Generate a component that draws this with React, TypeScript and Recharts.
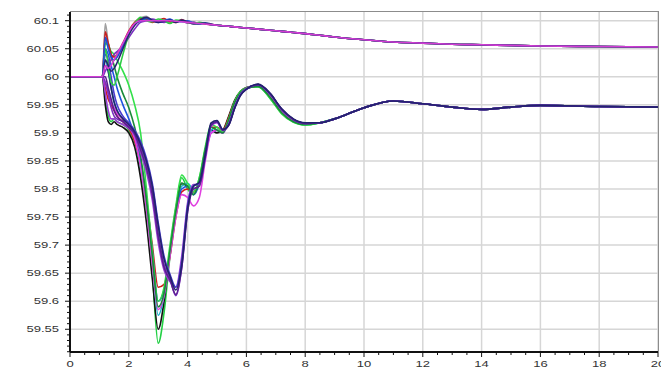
import { CartesianGrid, Line, LineChart, XAxis, YAxis } from "recharts";

// sample times (s)
const time = [
  0, 1, 1.1, 1.2, 1.3, 1.4, 1.5, 1.6, 1.8, 2, 2.2, 2.4, 2.6, 2.8, 3, 3.2, 3.4, 3.6, 3.8, 4, 4.2, 4.4, 4.6,
  4.8, 5, 5.2, 5.4, 5.6, 5.8, 6, 6.4, 6.8, 7.2, 7.6, 8, 8.5, 9, 10, 11, 12, 13, 14, 15, 16, 18, 20,
];

// pre-disturbance (t = 0, 1)
const preFault = [60, 60];

// lower bundle, t = 1.1 .. 8.0
const f1a = [60.0, 59.96, 59.93, 59.92, 59.925, 59.92, 59.915, 59.905, 59.88, 59.83, 59.76, 59.65, 59.525, 59.58, 59.68, 59.76, 59.82, 59.8, 59.79, 59.82, 59.87, 59.91, 59.905, 59.9, 59.925, 59.955, 59.972, 59.98, 59.982, 59.962, 59.935, 59.92, 59.914];
const f1b = [60.0, 59.95, 59.92, 59.915, 59.92, 59.915, 59.91, 59.9, 59.875, 59.82, 59.74, 59.64, 59.55, 59.6, 59.69, 59.765, 59.81, 59.805, 59.795, 59.815, 59.865, 59.905, 59.9, 59.905, 59.93, 59.958, 59.974, 59.981, 59.984, 59.965, 59.938, 59.922, 59.916];
const f1c = [60.0, 60.03, 60.01, 59.98, 59.955, 59.94, 59.925, 59.91, 59.885, 59.84, 59.77, 59.67, 59.575, 59.61, 59.69, 59.76, 59.805, 59.81, 59.8, 59.81, 59.86, 59.905, 59.91, 59.905, 59.925, 59.955, 59.972, 59.98, 59.985, 59.966, 59.937, 59.92, 59.915];
const f1d = [60.0, 59.98, 59.96, 59.95, 59.94, 59.93, 59.92, 59.908, 59.885, 59.845, 59.78, 59.7, 59.625, 59.63, 59.68, 59.75, 59.795, 59.8, 59.795, 59.815, 59.865, 59.91, 59.91, 59.905, 59.928, 59.956, 59.973, 59.98, 59.984, 59.965, 59.936, 59.921, 59.916];
const f1e = [60.0, 60.05, 60.04, 60.02, 60.0, 59.98, 59.95, 59.925, 59.895, 59.85, 59.785, 59.69, 59.6, 59.62, 59.685, 59.755, 59.8, 59.805, 59.79, 59.81, 59.86, 59.9, 59.905, 59.9, 59.922, 59.952, 59.97, 59.978, 59.984, 59.966, 59.938, 59.922, 59.916];
const f1f = [60.0, 59.99, 59.97, 59.955, 59.945, 59.935, 59.925, 59.912, 59.89, 59.84, 59.765, 59.665, 59.585, 59.61, 59.68, 59.75, 59.79, 59.785, 59.77, 59.785, 59.85, 59.9, 59.905, 59.9, 59.922, 59.952, 59.97, 59.979, 59.984, 59.966, 59.938, 59.922, 59.917];
const f1g = [60.0, 60.06, 60.055, 60.045, 60.04, 60.03, 60.01, 59.985, 59.95, 59.9, 59.8, 59.69, 59.6, 59.625, 59.7, 59.77, 59.825, 59.81, 59.795, 59.82, 59.875, 59.915, 59.91, 59.902, 59.925, 59.956, 59.974, 59.98, 59.983, 59.962, 59.934, 59.919, 59.914];
const f1h = [60.0, 60.07, 60.06, 60.04, 60.02, 60.0, 59.97, 59.945, 59.91, 59.86, 59.78, 59.68, 59.59, 59.615, 59.69, 59.76, 59.81, 59.805, 59.79, 59.815, 59.87, 59.91, 59.905, 59.9, 59.924, 59.954, 59.972, 59.979, 59.983, 59.964, 59.936, 59.92, 59.915];
const f2a = [60.0, 59.99, 59.97, 59.945, 59.93, 59.925, 59.92, 59.912, 59.9, 59.875, 59.845, 59.795, 59.72, 59.665, 59.64, 59.61, 59.66, 59.76, 59.805, 59.81, 59.86, 59.915, 59.92, 59.905, 59.915, 59.945, 59.968, 59.978, 59.986, 59.97, 59.942, 59.924, 59.917];
const f2b = [60.0, 60.02, 60.01, 59.98, 59.955, 59.94, 59.925, 59.915, 59.902, 59.88, 59.85, 59.805, 59.735, 59.675, 59.645, 59.62, 59.665, 59.765, 59.805, 59.812, 59.862, 59.918, 59.922, 59.906, 59.914, 59.944, 59.967, 59.978, 59.987, 59.971, 59.943, 59.925, 59.918];
const f2c = [60.0, 59.97, 59.94, 59.925, 59.925, 59.92, 59.915, 59.908, 59.895, 59.865, 59.83, 59.78, 59.705, 59.655, 59.635, 59.625, 59.68, 59.775, 59.808, 59.808, 59.855, 59.912, 59.918, 59.904, 59.916, 59.946, 59.969, 59.979, 59.986, 59.97, 59.942, 59.924, 59.917];
const f2d = [60.0, 60.04, 60.03, 60.0, 59.97, 59.95, 59.93, 59.918, 59.905, 59.885, 59.855, 59.81, 59.74, 59.68, 59.648, 59.625, 59.67, 59.77, 59.806, 59.81, 59.858, 59.915, 59.92, 59.905, 59.915, 59.945, 59.968, 59.978, 59.986, 59.97, 59.942, 59.924, 59.917];
const f2e = [60.0, 60.0, 59.98, 59.96, 59.94, 59.93, 59.92, 59.91, 59.898, 59.87, 59.838, 59.79, 59.715, 59.66, 59.638, 59.612, 59.66, 59.76, 59.8, 59.805, 59.858, 59.914, 59.92, 59.905, 59.914, 59.944, 59.967, 59.978, 59.986, 59.97, 59.942, 59.924, 59.917];
// lower bundle settled, t = 8.5 .. 20
const lowerTail = [59.918, 59.925, 59.945, 59.957, 59.952, 59.946, 59.942, 59.946, 59.949, 59.947, 59.946];

// upper bundle, t = 1.1 .. 5.0
const u1 = [60.0, 60.095, 60.06, 60.03, 60.03, 60.04, 60.06, 60.08, 60.095, 60.105, 60.108, 60.1, 60.098, 60.102, 60.097, 60.1, 60.099, 60.096, 60.098, 60.094, 60.095, 60.093, 60.092];
const u2 = [60.0, 60.01, 60.02, 60.03, 60.04, 60.045, 60.055, 60.07, 60.085, 60.097, 60.1, 60.103, 60.1, 60.097, 60.102, 60.098, 60.1, 60.096, 60.097, 60.095, 60.095, 60.093, 60.092];
const u3 = [60.0, 60.08, 60.06, 60.04, 60.035, 60.04, 60.06, 60.082, 60.097, 60.104, 60.102, 60.097, 60.1, 60.104, 60.098, 60.097, 60.102, 60.097, 60.096, 60.096, 60.094, 60.093, 60.092];
const u4 = [60.0, 60.05, 60.02, 59.99, 59.985, 60.0, 60.04, 60.075, 60.095, 60.106, 60.1, 60.098, 60.103, 60.1, 60.095, 60.101, 60.1, 60.097, 60.095, 60.097, 60.095, 60.093, 60.092];
const u5 = [60.0, 60.07, 60.05, 60.035, 60.03, 60.035, 60.055, 60.078, 60.093, 60.1, 60.104, 60.1, 60.097, 60.1, 60.103, 60.098, 60.098, 60.1, 60.096, 60.094, 60.096, 60.093, 60.092];
const u6 = [60.0, 60.03, 60.02, 60.01, 60.015, 60.025, 60.05, 60.075, 60.092, 60.102, 60.106, 60.101, 60.097, 60.099, 60.101, 60.097, 60.101, 60.098, 60.094, 60.095, 60.096, 60.094, 60.092];
const u7 = [60.0, 60.02, 60.015, 60.02, 60.03, 60.04, 60.06, 60.08, 60.095, 60.1, 60.1, 60.1, 60.1, 60.1, 60.1, 60.099, 60.098, 60.097, 60.096, 60.095, 60.094, 60.093, 60.092];
// upper bundle slow decay, t = 5.2 .. 20
const upperTail = [60.091, 60.09, 60.089, 60.088, 60.087, 60.085, 60.083, 60.081, 60.079, 60.077, 60.074, 60.071, 60.066, 60.062, 60.06, 60.058, 60.057, 60.056, 60.055, 60.054, 60.053];

const yDomain = [59.5095, 60.1155];
const xLabelTicks = [0, 2, 4, 6, 8, 10, 12, 14, 16, 18, 20];
const yLabelTicks = [59.55, 59.6, 59.65, 59.7, 59.75, 59.8, 59.85, 59.9, 59.95, 60, 60.05, 60.1];
const xMinorTicks = Array.from({ length: 41 }, (_, i) => i * 0.5);
const yMinorTicks = Array.from({ length: 61 }, (_, i) => +(59.51 + i * 0.01).toFixed(2));

const series = [
  { key: "f1a", color: "#22d044", values: f1a, tail: lowerTail },
  { key: "f1b", color: "#111111", values: f1b, tail: lowerTail },
  { key: "f1c", color: "#1fb5c8", values: f1c, tail: lowerTail },
  { key: "f1d", color: "#d41c1c", values: f1d, tail: lowerTail },
  { key: "f1e", color: "#1f55e0", values: f1e, tail: lowerTail },
  { key: "f1f", color: "#e040e0", values: f1f, tail: lowerTail },
  { key: "f1g", color: "#33e04a", values: f1g, tail: lowerTail },
  { key: "f1h", color: "#1a8a3a", values: f1h, tail: lowerTail },
  { key: "f2a", color: "#7a2fc0", values: f2a, tail: lowerTail },
  { key: "f2c", color: "#9b3fd6", values: f2c, tail: lowerTail },
  { key: "f2d", color: "#4a3ad0", values: f2d, tail: lowerTail },
  { key: "f2e", color: "#5b1f90", values: f2e, tail: lowerTail },
  { key: "f2b", color: "#23236e", values: f2b, tail: lowerTail },
  { key: "u1", color: "#a0a0a0", values: u1, tail: upperTail },
  { key: "u2", color: "#7a2fc0", values: u2, tail: upperTail },
  { key: "u3", color: "#c82020", values: u3, tail: upperTail },
  { key: "u4", color: "#2ccc44", values: u4, tail: upperTail },
  { key: "u5", color: "#2050d8", values: u5, tail: upperTail },
  { key: "u6", color: "#262670", values: u6, tail: upperTail },
  { key: "u7", color: "#d43cd4", values: u7, tail: upperTail },
];

const rows = time.map((t, i) => {
  const row: Record<string, number> = { t };
  series.forEach((s) => {
    row[s.key] = [...preFault, ...s.values, ...s.tail][i];
  });
  return row;
});

const isOn = (v: number, step: number) => Math.abs(v / step - Math.round(v / step)) < 1e-6;
const labelStyle = { fontFamily: "Liberation Sans, Arial, sans-serif", fontSize: 9, fill: "#333" };

const XTick = ({ x, y, payload }: any) => {
  const major = isOn(payload.value, 2);
  return (
    <g>
      <line x1={x} x2={x} y1={y} y2={y + (major ? 5 : 3)} stroke="#111" />
      {major && (
        <text transform={`translate(${x},${y + 12}) scale(1.45,1)`} textAnchor="middle" dy="0.35em" {...labelStyle}>
          {payload.value}
        </text>
      )}
    </g>
  );
};

const YTick = ({ x, y, payload }: any) => {
  const major = isOn(payload.value, 0.05);
  return (
    <g>
      <line x1={x - (major ? 5 : 3)} x2={x} y1={y} y2={y} stroke="#111" />
      {major && (
        <text transform={`translate(${x - 11},${y}) scale(1.45,1)`} textAnchor="end" dy="0.35em" {...labelStyle}>
          {String(+payload.value.toFixed(2))}
        </text>
      )}
    </g>
  );
};

export default function App() {
  return (
    <div style={{ position: "absolute", left: 0, top: 0, background: "#fff" }}>
      <LineChart width={661} height={368} data={rows} margin={{ top: 12, right: 3, left: 0, bottom: 0 }}>
        <CartesianGrid
          stroke="#d6d6d6"
          strokeWidth={1.5}
          horizontalValues={yLabelTicks}
          verticalValues={xLabelTicks}
        />
        <XAxis
          dataKey="t"
          type="number"
          domain={[0, 20]}
          ticks={xMinorTicks}
          interval={0}
          height={16}
          tickSize={0}
          tickMargin={0}
          tickLine={false}
          tick={<XTick />}
          axisLine={{ stroke: "#111", strokeWidth: 2 }}
          allowDataOverflow
        />
        <YAxis
          type="number"
          domain={yDomain}
          ticks={yMinorTicks}
          interval={0}
          width={70}
          tickSize={0}
          tickMargin={0}
          tickLine={false}
          tick={<YTick />}
          axisLine={{ stroke: "#111", strokeWidth: 2 }}
          allowDataOverflow
        />
        {series.map((s) => (
          <Line
            key={s.key}
            dataKey={s.key}
            type="monotone"
            stroke={s.color}
            strokeWidth={1.6}
            dot={false}
            isAnimationActive={false}
          />
        ))}
      </LineChart>
      {/* plot frame, top and right */}
      <div
        style={{
          position: "absolute",
          left: 70,
          top: 11,
          width: 589,
          height: 341,
          boxSizing: "border-box",
          borderTop: "1.5px solid #8c8c8c",
          borderRight: "1.5px solid #8c8c8c",
          pointerEvents: "none",
        }}
      />
    </div>
  );
}
